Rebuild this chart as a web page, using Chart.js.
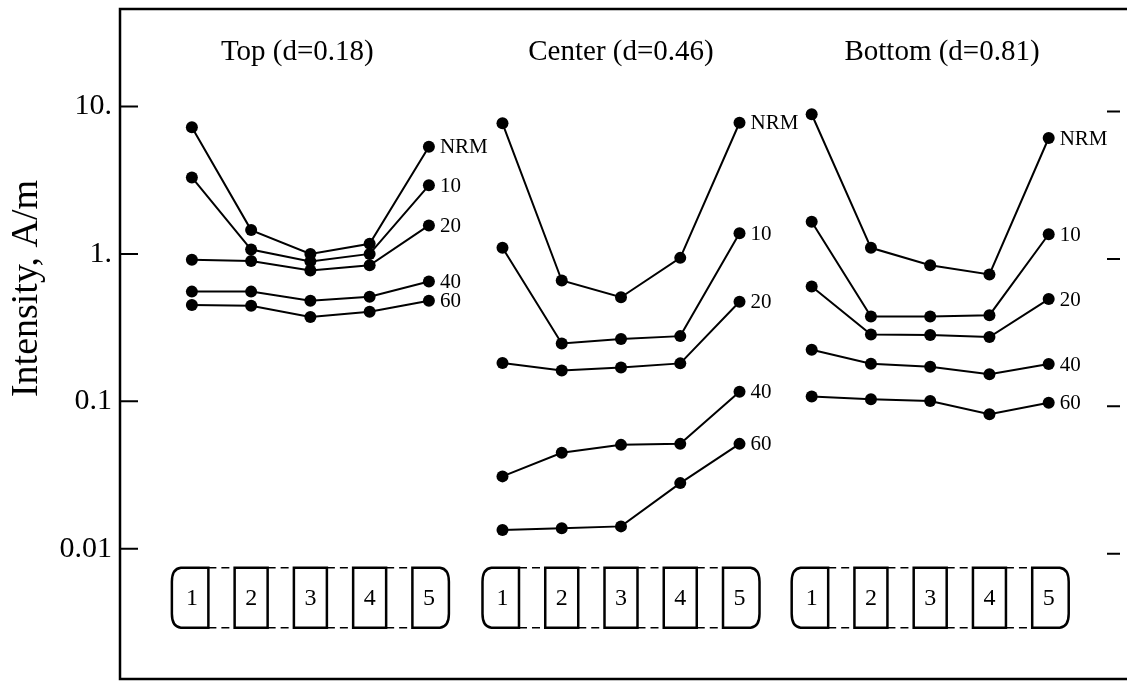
<!DOCTYPE html>
<html>
<head>
<meta charset="utf-8">
<script src="https://cdn.jsdelivr.net/npm/chart.js@4.4.1/dist/chart.umd.min.js"></script>
<style>
    html, body { margin: 0; padding: 0; background: #fff; overflow: hidden; }
</style>
</head>
<body>
<canvas id="grafico" width="1128" height="685"></canvas>
<script>
// Títulos de cada grupo y nombres de las series
const groupTitles = ['Top (d=0.18)', 'Center (d=0.46)', 'Bottom (d=0.81)'];
const seriesNames = ['NRM', '10', '20', '40', '60'];
const sampleLabels = ['1', '2', '3', '4', '5'];

// Ticks del eje Y (escala logaritmica)
const yTicks = [0.01, 0.1, 1, 10];
const yTickLabels = ['0.01', '0.1', '1.', '10.'];

// Valores (A/m), una fila por serie: NRM, 10, 20, 40, 60
const topValues = [
    [7.22, 1.45, 1.0, 1.17, 5.33],
    [3.30, 1.07, 0.89, 1.0, 2.92],
    [0.914, 0.896, 0.773, 0.837, 1.56],
    [0.555, 0.555, 0.482, 0.513, 0.65],
    [0.45, 0.445, 0.374, 0.405, 0.482]
];
const centerValues = [
    [7.68, 0.66, 0.508, 0.94, 7.75],
    [1.10, 0.247, 0.265, 0.277, 1.38],
    [0.182, 0.162, 0.170, 0.181, 0.474],
    [0.031, 0.0448, 0.0507, 0.0515, 0.116],
    [0.0134, 0.0138, 0.0142, 0.0279, 0.0515]
];
const bottomValues = [
    [8.85, 1.10, 0.837, 0.726, 6.11],
    [1.65, 0.376, 0.376, 0.384, 1.36],
    [0.601, 0.284, 0.282, 0.273, 0.494],
    [0.224, 0.18, 0.172, 0.153, 0.179],
    [0.108, 0.1035, 0.1005, 0.0817, 0.098]
];
const groupValues = [topValues, centerValues, bottomValues];

// Posicion de inicio de cada grupo sobre el eje X (unidades de muestra)
const groupStart = [1.213, 6.455, 11.673];
const titleShift = [-0.22, 0, 0.2];

const serif = "'Liberation Serif', 'Times New Roman', serif";

// Construye un dataset por grupo y serie
const datasets = [];
groupValues.forEach((rows, g) => {
    rows.forEach((row, s) => {
        datasets.push({
            label: groupTitles[g] + ' ' + seriesNames[s],
            seriesName: seriesNames[s],
            data: row.map((v, i) => ({ x: groupStart[g] + i, y: v })),
            showLine: true,
            borderColor: '#000',
            borderWidth: 2,
            pointRadius: 6,
            pointHoverRadius: 6,
            pointBackgroundColor: '#000',
            pointBorderWidth: 0,
            clip: false
        });
    });
});

// Plugin para el marco, ticks interiores, titulos, etiquetas y diagramas de muestras
const decoraciones = {
    id: 'decoraciones',
    afterDatasetsDraw(chart) {
        const ctx = chart.ctx;
        const area = chart.chartArea;
        const xs = chart.scales.x;
        const ys = chart.scales.y;
        ctx.save();
        ctx.strokeStyle = '#000';
        ctx.fillStyle = '#000';

        // marco
        ctx.lineWidth = 2.5;
        ctx.beginPath();
        ctx.moveTo(area.right + 5, area.top);
        ctx.lineTo(area.left, area.top);
        ctx.lineTo(area.left, area.bottom);
        ctx.lineTo(area.right + 5, area.bottom);
        ctx.stroke();

        // ticks interiores
        ctx.lineWidth = 2;
        yTicks.forEach(v => {
            const y = ys.getPixelForValue(v);
            ctx.beginPath();
            ctx.moveTo(area.left, y);
            ctx.lineTo(area.left + 18, y);
            ctx.moveTo(area.right - 15, y + 5);
            ctx.lineTo(area.right - 2, y + 5);
            ctx.stroke();
        });

        // titulo del eje Y
        ctx.save();
        ctx.translate(27, 180);
        ctx.rotate(-Math.PI / 2);
        ctx.font = '38px ' + serif;
        ctx.textAlign = 'right';
        ctx.textBaseline = 'middle';
        ctx.fillText('Intensity, A/m', 0, 0);
        ctx.restore();

        // titulos de grupo
        ctx.font = '29px ' + serif;
        ctx.textAlign = 'center';
        ctx.textBaseline = 'middle';
        groupTitles.forEach((t, g) => {
            ctx.fillText(t, xs.getPixelForValue(groupStart[g] + 2 + titleShift[g]), 52);
        });

        // etiquetas de serie junto al ultimo punto
        ctx.font = '21px ' + serif;
        ctx.textAlign = 'left';
        chart.data.datasets.forEach((ds, i) => {
            const pts = chart.getDatasetMeta(i).data;
            const last = pts[pts.length - 1];
            ctx.fillText(ds.seriesName, last.x + 11, last.y + 1);
        });

        // diagramas de las muestras
        const top = ys.getPixelForValue(0.01) + 19;
        const bottom = top + 60;
        const half = 16.5;
        groupStart.forEach(start => {
            const cx = sampleLabels.map((s, i) => xs.getPixelForValue(start + i));
            // lineas discontinuas entre cajas
            ctx.lineWidth = 1.5;
            ctx.setLineDash([8, 5]);
            ctx.beginPath();
            for (let i = 0; i < cx.length - 1; i++) {
                ctx.moveTo(cx[i] + half, top);
                ctx.lineTo(cx[i + 1] - half, top);
                ctx.moveTo(cx[i] + half, bottom);
                ctx.lineTo(cx[i + 1] - half, bottom);
            }
            ctx.stroke();
            ctx.setLineDash([]);

            ctx.lineWidth = 2.5;
            cx.forEach((x, i) => {
                ctx.beginPath();
                if (i === 0) {
                    const l = x - 20;
                    ctx.moveTo(x + half, top);
                    ctx.lineTo(l + 9, top);
                    ctx.quadraticCurveTo(l, top + 1, l, top + 14);
                    ctx.lineTo(l, bottom - 14);
                    ctx.quadraticCurveTo(l, bottom - 1, l + 9, bottom);
                    ctx.lineTo(x + half, bottom);
                    ctx.closePath();
                } else if (i === cx.length - 1) {
                    const r = x + 20;
                    ctx.moveTo(x - half, top);
                    ctx.lineTo(r - 9, top);
                    ctx.quadraticCurveTo(r, top + 1, r, top + 14);
                    ctx.lineTo(r, bottom - 14);
                    ctx.quadraticCurveTo(r, bottom - 1, r - 9, bottom);
                    ctx.lineTo(x - half, bottom);
                    ctx.closePath();
                } else {
                    ctx.rect(x - half, top, half * 2, bottom - top);
                }
                ctx.stroke();
            });

            ctx.font = '24px ' + serif;
            ctx.textAlign = 'center';
            ctx.textBaseline = 'middle';
            cx.forEach((x, i) => ctx.fillText(sampleLabels[i], x, (top + bottom) / 2 + 1));
        });

        ctx.restore();
    }
};

const ctx = document.getElementById('grafico').getContext('2d');
const myChart = new Chart(ctx, {
    type: 'scatter',
    data: { datasets: datasets },
    options: {
        responsive: false,
        animation: false,
        events: [],
        layout: { padding: { top: 9, bottom: -3, left: 0, right: 0 } },
        plugins: {
            legend: { display: false },
            tooltip: { enabled: false },
            title: { display: false }
        },
        scales: {
            x: {
                type: 'linear',
                display: false,
                min: 0,
                max: 16.91
            },
            y: {
                type: 'logarithmic',
                min: 0.00131,
                max: 45.8,
                // ancho fijo del eje y sin relleno extra por las etiquetas
                afterFit: s => { s.width = 120; s.paddingTop = 0; s.paddingBottom = 0; },
                afterBuildTicks: s => { s.ticks = yTicks.map(v => ({ value: v })); },
                grid: { display: false, drawTicks: false },
                border: { display: false },
                ticks: {
                    color: '#000',
                    padding: 8,
                    font: { family: serif, size: 30 },
                    callback: (v, i) => yTickLabels[i]
                }
            }
        }
    },
    plugins: [decoraciones]
});
</script>
</body>
</html>
